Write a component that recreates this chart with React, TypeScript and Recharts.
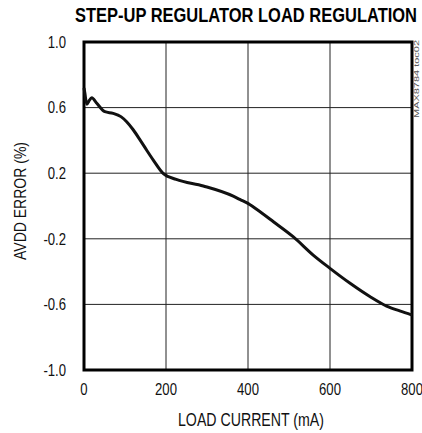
import { LineChart, Line, XAxis, YAxis, CartesianGrid, ReferenceArea } from "recharts";

// load current (mA) and AVDD error (%)
const loadCurrent = [0, 2, 7, 12, 19, 30, 51, 71, 90, 104, 120, 137, 153, 169, 193, 225, 291, 364, 380, 405, 421, 462, 510, 559, 600, 649, 698, 738, 770, 800];
const avddError = [0.72, 0.69, 0.62, 0.64, 0.66, 0.63, 0.575, 0.565, 0.545, 0.514, 0.465, 0.402, 0.34, 0.28, 0.199, 0.162, 0.122, 0.06, 0.04, 0.008, -0.02, -0.096, -0.187, -0.299, -0.38, -0.471, -0.553, -0.61, -0.64, -0.665];

const xTicks = [0, 200, 400, 600, 800];
const yTicks = [-1.0, -0.6, -0.2, 0.2, 0.6, 1.0];

const data = loadCurrent.map((x, i) => ({ x, y: avddError[i] }));

const FONT = "'Liberation Sans', Arial, sans-serif";

// narrow tick text (the original uses a condensed face)
const NarrowTick = (props: any) => {
  const { x, y, payload, textAnchor, fmt, dy } = props;
  const label = fmt ? fmt(payload.value) : String(payload.value);
  return (
    <text
      x={x}
      y={y}
      dy={dy}
      textAnchor={textAnchor}
      fontSize={16}
      fill="#111"
      fontFamily={FONT}
      transform={`translate(${x} ${y}) scale(0.82 1) translate(${-x} ${-y})`}
    >
      {label}
    </text>
  );
};

const App = () => {
  return (
    <div style={{ position: "absolute", left: 0, top: 0, width: 422, height: 433, background: "#fff", fontFamily: FONT }}>
      <LineChart width={422} height={433} data={data} margin={{ top: 42, right: 10, bottom: 33, left: 0 }}>
        <CartesianGrid stroke="#222" strokeWidth={1} />
        <XAxis
          dataKey="x"
          type="number"
          domain={[0, 800]}
          ticks={xTicks}
          axisLine={false}
          tickLine={false}
          height={30}
          tickSize={6}
          tickMargin={8}
          tick={<NarrowTick dy="0.71em" />}
          interval={0}
        />
        <YAxis
          type="number"
          domain={[-1, 1]}
          ticks={yTicks}
          axisLine={false}
          tickLine={false}
          width={84}
          tickSize={8}
          tickMargin={10}
          tick={<NarrowTick dy="0.36em" fmt={(v: number) => v.toFixed(1)} />}
          interval={0}
        />
        <ReferenceArea x1={0} x2={800} y1={-1} y2={1} fill="none" stroke="#000" strokeWidth={3} ifOverflow="visible" />
        <Line
          type="monotone"
          dataKey="y"
          stroke="#111"
          strokeWidth={3}
          dot={false}
          isAnimationActive={false}
        />
      </LineChart>
      <svg width={422} height={433} style={{ position: "absolute", left: 0, top: 0, pointerEvents: "none" }}>
        <text x={75} y={22} fontSize={21} fontWeight="bold" fill="#000" fontFamily={FONT} textLength={342} lengthAdjust="spacingAndGlyphs">
          STEP-UP REGULATOR LOAD REGULATION
        </text>
        <text x={178} y={426} fontSize={18} fill="#111" fontFamily={FONT} textLength={146} lengthAdjust="spacingAndGlyphs">
          LOAD CURRENT (mA)
        </text>
        <text x={26} y={260} transform="rotate(-90 26 260)" fontSize={17} fill="#111" fontFamily={FONT} textLength={118} lengthAdjust="spacingAndGlyphs">
          AVDD ERROR (%)
        </text>
        <text x={419} y={118} transform="rotate(-90 419 118)" fontSize={8} fill="#555" fontFamily={FONT} textLength={78} lengthAdjust="spacingAndGlyphs">
          MAX8784 toc02
        </text>
      </svg>
    </div>
  );
};

export default App;
